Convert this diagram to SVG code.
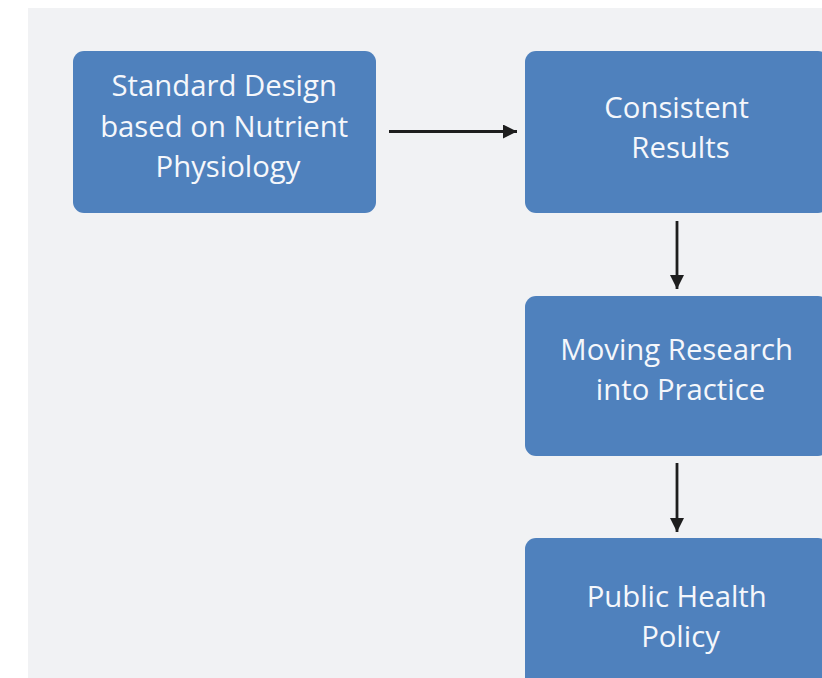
<svg xmlns="http://www.w3.org/2000/svg" width="822" height="678" viewBox="0 0 822 678">
  <style>
    .box { fill: #4f81bd; }
    .label { font-family: "Open Sans", "Noto Sans", "DejaVu Sans", sans-serif; font-size: 29.3px; fill: #f5f7fb; text-anchor: middle; }
    .link { stroke: #1e1e1e; stroke-width: 2.8; fill: none; }
  </style>
  <defs>
    <marker id="head" viewBox="0 0 10 10" refX="10" refY="5" markerWidth="6.5" markerHeight="5" markerUnits="strokeWidth" orient="auto">
      <path d="M0,0 L10,5 L0,10 Z" fill="#1e1e1e"/>
    </marker>
  </defs>

  <!-- page backdrop -->
  <rect x="0" y="0" width="822" height="678" fill="#ffffff"/>
  <rect x="28" y="8" width="794" height="670" fill="#f1f2f4"/>

  <!-- flow nodes -->
  <g id="standard-design">
    <rect class="box" x="73" y="51" width="303" height="162" rx="11"/>
    <text class="label">
      <tspan x="228" y="96">Standard Design</tspan>
      <tspan x="228" y="136.5">based on Nutrient</tspan>
      <tspan x="228" y="177">Physiology</tspan>
    </text>
  </g>

  <g id="consistent-results">
    <rect class="box" x="525" y="51" width="304" height="162" rx="11"/>
    <text class="label">
      <tspan x="680.5" y="118">Consistent</tspan>
      <tspan x="680.5" y="157.5">Results</tspan>
    </text>
  </g>

  <g id="research-into-practice">
    <rect class="box" x="525" y="296" width="304" height="160" rx="11"/>
    <text class="label">
      <tspan x="680.5" y="360">Moving Research</tspan>
      <tspan x="680.5" y="399.5">into Practice</tspan>
    </text>
  </g>

  <g id="public-health-policy">
    <rect class="box" x="525" y="538" width="304" height="160" rx="11"/>
    <text class="label">
      <tspan x="680.5" y="607">Public Health</tspan>
      <tspan x="680.5" y="646.5">Policy</tspan>
    </text>
  </g>

  <!-- connectors -->
  <g id="connectors">
    <line class="link" x1="389" y1="131.5" x2="517" y2="131.5" marker-end="url(#head)"/>
    <line class="link" x1="677" y1="221" x2="677" y2="289" marker-end="url(#head)"/>
    <line class="link" x1="677" y1="463" x2="677" y2="532" marker-end="url(#head)"/>
  </g>
</svg>
